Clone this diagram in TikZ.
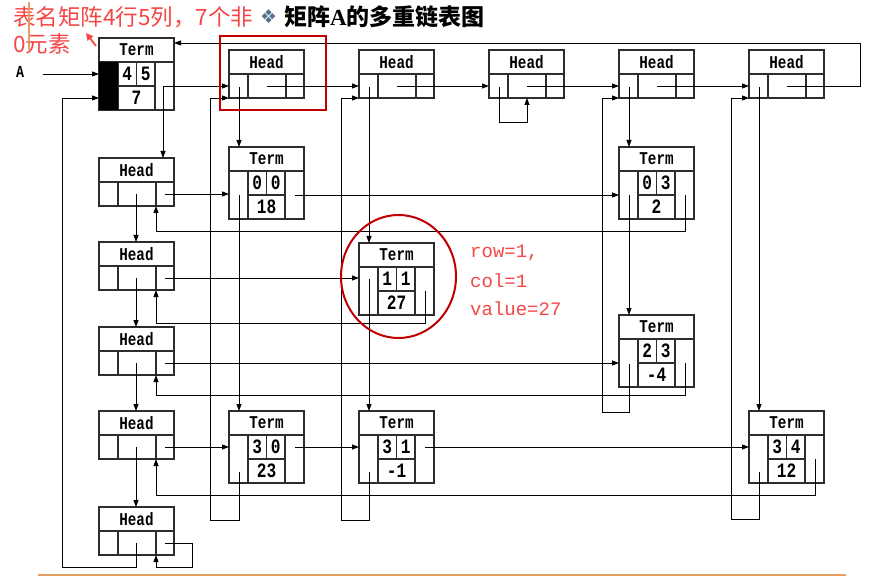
\documentclass[tikz,border=0pt]{standalone}
\usepackage{fontspec}
\setmainfont{Liberation Serif}
\newfontfamily\boxfont{Liberation Mono}
\newfontfamily\cjk{Noto Sans CJK SC}
\newfontfamily\symfont{DejaVu Sans}
\usetikzlibrary{arrows.meta,calc}
\definecolor{boxgray}{RGB}{45,45,45}
\definecolor{darkred}{RGB}{192,0,0}
\definecolor{notered}{RGB}{245,70,70}
\definecolor{orangeline}{RGB}{228,160,100}
\definecolor{diamondblue}{RGB}{85,115,145}
\tikzset{
 boxline/.style={draw=boxgray, line width=1.1pt},
 hbox/.style={boxline, rectangle, anchor=north west, minimum width=75pt, minimum height=48pt, inner sep=0pt, outer sep=0pt},
 tbox/.style={hbox, minimum height=72pt},
 lbl/.style={font=\boxfont\bfseries\fontsize{15}{15}\selectfont, inner sep=0pt},
 num/.style={font=\boxfont\bfseries\fontsize{17}{17}\selectfont, inner sep=0pt},
 conn/.style={draw=black, line width=0.8pt},
 arr/.style={conn, -{Triangle[length=7pt,width=5pt]}},
 rednote/.style={anchor=west, text=notered, inner sep=0pt, font=\boxfont\fontsize{19}{19}\selectfont},
}
\newcommand\tall[1]{\scalebox{0.95}[1.2]{#1}}
\newcommand\HeadBox[3]{%
 \node[hbox] (#1) at (#2,#3) {};
 \draw[boxline] (#2,#3+24) -- (#2+75,#3+24)
   (#2+19,#3+24) -- (#2+19,#3+48)
   (#2+57,#3+24) -- (#2+57,#3+48);
 \node[lbl] (#1-t) at (#2+37.5,#3+12) {\tall{Head}};
}
\newcommand\TermBox[6]{%
 \node[tbox] (#1) at (#2,#3) {};
 \draw[boxline] (#2,#3+24) -- (#2+75,#3+24)
  (#2+19,#3+24) -- (#2+19,#3+72)
  (#2+56,#3+24) -- (#2+56,#3+72)
  (#2+19,#3+48) -- (#2+56,#3+48)
  (#2+37.5,#3+24) -- (#2+37.5,#3+48);
 \node[lbl] (#1-t) at (#2+37.5,#3+12) {\tall{Term}};
 \node[num] (#1-a) at (#2+28.25,#3+36) {\tall{#4}};
 \node[num] (#1-b) at (#2+46.75,#3+36) {\tall{#5}};
 \node[num] (#1-v) at (#2+37.5,#3+60) {\tall{#6}};
}
\begin{document}
\begin{tikzpicture}[x=1pt,y=-1pt]
\useasboundingbox (0,0) rectangle (875,577);

% header node
\TermBox{m}{99}{38}{4}{5}{7}
\fill[black] (99,62) rectangle (118,110);

% column heads
\HeadBox{h0}{229}{50}
\HeadBox{h1}{359}{50}
\HeadBox{h2}{489}{50}
\HeadBox{h3}{619}{50}
\HeadBox{h4}{749}{50}
% row heads
\HeadBox{r0}{99}{158}
\HeadBox{r1}{99}{242}
\HeadBox{r2}{99}{327}
\HeadBox{r3}{99}{411}
\HeadBox{r4}{99}{507}
% terms
\TermBox{t00}{229}{147}{0}{0}{18}
\TermBox{t03}{619}{147}{0}{3}{2}
\TermBox{t11}{359}{243}{1}{1}{27}
\TermBox{t23}{619}{315}{2}{3}{-4}
\TermBox{t30}{229}{411}{3}{0}{23}
\TermBox{t31}{359}{411}{3}{1}{-1}
\TermBox{t34}{749}{411}{3}{4}{12}

% A pointer
\node[font=\boxfont\bfseries\fontsize{14}{14}\selectfont, inner sep=0pt] (alabel) at (20,72) {\tall{A}};
\coordinate (astart) at (43,74);
\draw[arr] (astart) -- (astart -| m.west);

% header pointer
\coordinate (mp) at ($(m.north west)+(64,48)$);
\draw[arr] (mp) -- (mp |- r0.north);
\draw[arr] (mp) -- (mp -| h0.west);

% column head chain
\foreach \a/\b in {h0/h1,h1/h2,h2/h3,h3/h4}{
  \coordinate (tmp) at ($(\a.north west)+(38,36)$);
  \draw[arr] (tmp) -- (tmp -| \b.west);
}
\coordinate (h4m) at ($(h4.north west)+(38,36)$);
\coordinate (mtop) at ($(m.north east)+(0,5)$);
\draw[arr] (h4m) -| ($(mtop)+(686,0)$) -- (mtop);

% row head chain
\foreach \a/\b in {r0/r1,r1/r2,r2/r3,r3/r4}{
  \coordinate (tmp) at ($(\a.north west)+(37,36)$);
  \draw[arr] (tmp) -- (tmp |- \b.north);
}
\coordinate (r4m) at ($(r4.north west)+(37,36)$);
\coordinate (mbl) at ($(m.south west)+(0,-12)$);
\draw[arr] (r4m) |- ($(mbl)+(-37,469)$) |- (mbl);

% column 0
\coordinate (h0c) at ($(h0.north west)+(10,37)$);
\draw[arr] (h0c) -- (h0c |- t00.north);
\coordinate (t00c) at ($(t00.north west)+(10,48)$);
\draw[arr] (t00c) -- (t00c |- t30.north);
\coordinate (t30c) at ($(t30.north west)+(10,61)$);
\draw[arr] (t30c) |- ($(t30c)+(-29,48)$) |- (h0.south west);
% column 1
\coordinate (h1c) at ($(h1.north west)+(10,37)$);
\draw[arr] (h1c) -- (h1c |- t11.north);
\coordinate (t11c) at ($(t11.north west)+(10,36)$);
\draw[arr] (t11c) -- (t11c |- t31.north);
\coordinate (t31c) at ($(t31.north west)+(10,61)$);
\draw[arr] (t31c) |- ($(t31c)+(-28,48)$) |- (h1.south west);
% column 2
\coordinate (h2c) at ($(h2.north west)+(10,37)$);
\draw[arr] (h2c) |- ($(h2.south west)+(38,24)$) -- ($(h2.south west)+(38,0)$);
% column 3
\coordinate (h3c) at ($(h3.north west)+(10,37)$);
\draw[arr] (h3c) -- (h3c |- t03.north);
\coordinate (t03c) at ($(t03.north west)+(10,48)$);
\draw[arr] (t03c) -- (t03c |- t23.north);
\coordinate (t23c) at ($(t23.north west)+(10,49)$);
\draw[arr] (t23c) |- ($(t23c)+(-27,48)$) |- (h3.south west);
% column 4
\coordinate (h4c) at ($(h4.north west)+(10,37)$);
\draw[arr] (h4c) -- (h4c |- t34.north);
\coordinate (t34c) at ($(t34.north west)+(10,61)$);
\draw[arr] (t34c) |- ($(t34c)+(-28,47)$) |- (h4.south west);

% row 0
\coordinate (r0r) at ($(r0.north west)+(66,36)$);
\draw[arr] (r0r) -- (r0r -| t00.west);
\coordinate (t00r) at ($(t00.north west)+(66,48)$);
\draw[arr] (t00r) -- (t00r -| t03.west);
\coordinate (t03r) at ($(t03.north west)+(66,48)$);
\draw[arr] (t03r) |- ($(r0.south west)+(57,25)$) -- ($(r0.south west)+(57,0)$);
% row 1
\coordinate (r1r) at ($(r1.north west)+(66,36)$);
\draw[arr] (r1r) -- (r1r -| t11.west);
\coordinate (t11r) at ($(t11.north west)+(66,48)$);
\draw[arr] (t11r) |- ($(r1.south west)+(57,33)$) -- ($(r1.south west)+(57,0)$);
% row 2
\coordinate (r2r) at ($(r2.north west)+(66,36)$);
\draw[arr] (r2r) -- (r2r -| t23.west);
\coordinate (t23r) at ($(t23.north west)+(66,48)$);
\draw[arr] (t23r) |- ($(r2.south west)+(57,20)$) -- ($(r2.south west)+(57,0)$);
% row 3
\coordinate (r3r) at ($(r3.north west)+(66,36)$);
\draw[arr] (r3r) -- (r3r -| t30.west);
\coordinate (t30r) at ($(t30.north west)+(66,36)$);
\draw[arr] (t30r) -- (t30r -| t31.west);
\coordinate (t31r) at ($(t31.north west)+(66,36)$);
\draw[arr] (t31r) -- (t31r -| t34.west);
\coordinate (t34r) at ($(t34.north west)+(66,48)$);
\draw[arr] (t34r) |- ($(r3.south west)+(57,36)$) -- ($(r3.south west)+(57,0)$);
% row 4
\coordinate (r4r) at ($(r4.north west)+(66,36)$);
\draw[arr] (r4r) -| ($(r4.south west)+(93,12)$) -| ($(r4.south west)+(57,0)$);

% annotations
\node[anchor=west, text=notered, font=\cjk\fontsize{22.5}{22.5}\selectfont, inner sep=0pt] (note1) at (13,17) {表名矩阵4行5列，7个非};
\node[anchor=west, text=notered, font=\cjk\fontsize{22.5}{22.5}\selectfont, inner sep=0pt] (note2) at (13,44) {0元素};
\draw[orangeline, line width=1.5pt] (29,2) -- (29,50);
\draw[notered, line width=1.8pt, -{Triangle[length=7pt,width=7pt]}] (96,46) -- (86,33);
\node[anchor=west, text=diamondblue, font=\symfont\fontsize{19}{19}\selectfont, inner sep=0pt] (diam) at (260,17) {❖};
\node[anchor=west, font=\cjk\bfseries\fontsize{23}{23}\selectfont, inner sep=0pt] (title) at (284,17) {矩阵{\rmfamily\bfseries A}的多重链表图};
\draw[darkred, line width=2.5pt] (220,36) rectangle (326,110);
\draw[darkred, line width=2pt] (398.5,276.5) ellipse [x radius=57.5, y radius=61.5];
\node[rednote] (rowtxt) at (470,253) {row=1,};
\node[rednote] (coltxt) at (470,281) {col=1};
\node[rednote] (valtxt) at (470,309) {value=27};
\draw[orangeline, line width=2pt] (38,575) -- (846,575);
\end{tikzpicture}
\end{document}
